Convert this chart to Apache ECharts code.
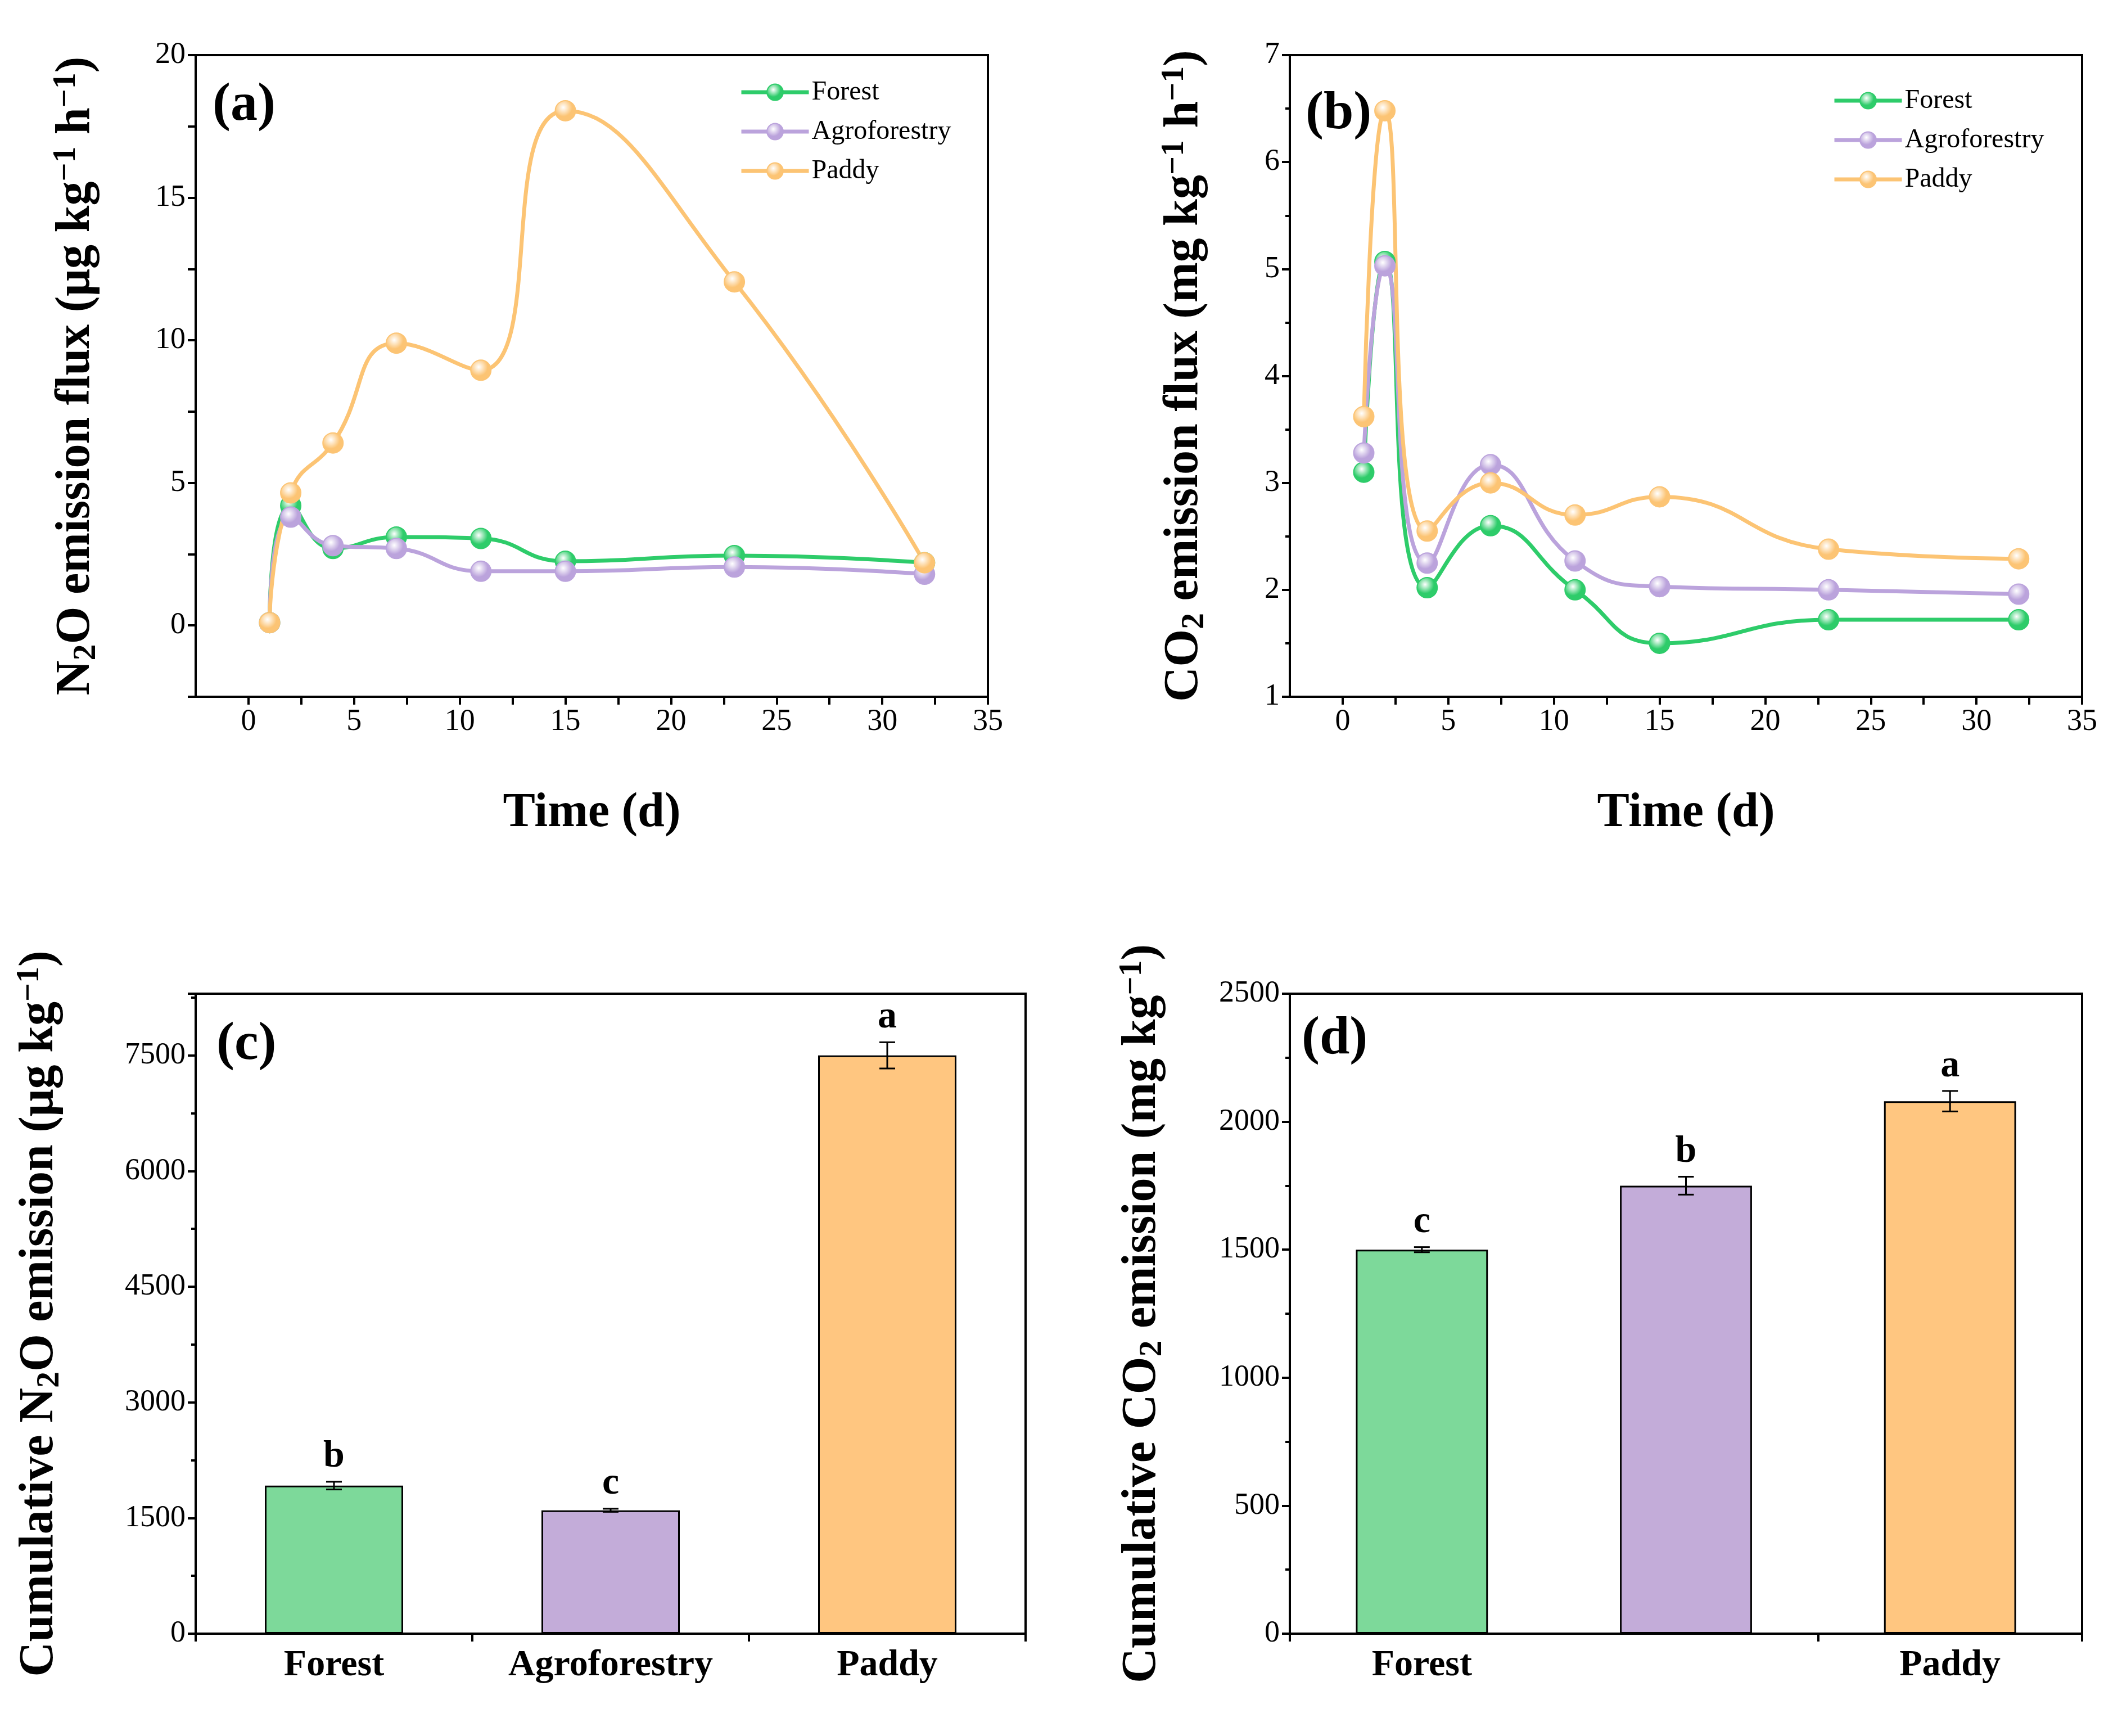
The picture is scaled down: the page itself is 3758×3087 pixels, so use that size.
<!DOCTYPE html>
<html><head><meta charset="utf-8">
<script src="https://cdn.jsdelivr.net/npm/echarts@6/dist/echarts.min.js"></script>
<style>html,body{margin:0;background:#fff}#c{width:3758px;height:3087px}</style>
</head><body><div id="c"></div>
<script>
var days = [1, 2, 4, 7, 11, 15, 23, 32];
var n2oForest = [0.1, 4.2, 2.7, 3.1, 3.05, 2.25, 2.45, 2.2];
var n2oAgro = [0.1, 3.8, 2.8, 2.7, 1.9, 1.9, 2.05, 1.8];
var n2oPaddy = [0.1, 4.65, 6.4, 9.9, 8.95, 18.05, 12.05, 2.2];
var co2Forest = [3.1, 5.07, 2.02, 2.6, 2.0, 1.5, 1.72, 1.72];
var co2Agro = [3.28, 5.03, 2.25, 3.17, 2.27, 2.03, 2.0, 1.96];
var co2Paddy = [3.62, 6.48, 2.55, 3.0, 2.7, 2.87, 2.38, 2.29];
var sites = ['Forest', 'Agroforestry', 'Paddy'];
var cumN2O = [1920, 1600, 7500];
var cumN2OErr = [50, 20, 170];
var cumN2OLetter = ['b', 'c', 'a'];
var cumCO2 = [1500, 1750, 2080];
var cumCO2Err = [10, 35, 40];
var cumCO2Letter = ['c', 'b', 'a'];

var lineCol = ['#2ecc6a', '#bba3dc', '#fcc474'];
var barCol = ['#7dd99a', '#c3acd9', '#ffc680'];
var F = 'Liberation Serif';
var chart = echarts.init(document.getElementById('c'));

var grids = [
  {left: 348, top: 98, width: 1409, height: 1141},
  {left: 2294, top: 98, width: 1409, height: 1141},
  {left: 348, top: 1767, width: 1476, height: 1138},
  {left: 2294, top: 1767, width: 1409, height: 1138}
].map(function (g) { return Object.assign({show: true, borderColor: '#000', borderWidth: 4, backgroundColor: 'transparent'}, g); });

var rich = {
  t: {fontFamily: F, fontWeight: 'bold', fontSize: 86, color: '#000'},
  sub: {fontFamily: F, fontWeight: 'bold', fontSize: 58, color: '#000', verticalAlign: 'bottom', padding: [36, 0, 0, 0]},
  sup: {fontFamily: F, fontWeight: 'bold', fontSize: 58, color: '#000', padding: [0, 0, 36, 0]}
};
function plain(v) { return String(v); }
function axisBase(extra) {
  return Object.assign({
    axisLine: {show: true, onZero: false, lineStyle: {color: '#000', width: 4}},
    axisTick: {show: true, inside: false, length: 14, lineStyle: {width: 4}},
    axisLabel: {fontFamily: F, fontSize: 54, color: '#000', margin: 18, formatter: plain},
    splitLine: {show: false},
    nameTextStyle: {rich: rich}
  }, extra);
}
function fiveOnly(v) { return v % 5 === 0 ? String(v) : ''; }
var minor = {show: true, splitNumber: 2, length: 8, lineStyle: {width: 4, color: '#000'}};
var xaxes = [0, 1].map(function (i) {
  return axisBase({type: 'value', gridIndex: i, min: -2.5, max: 35, interval: 2.5,
    axisLabel: {fontFamily: F, fontSize: 54, color: '#000', margin: 18, formatter: fiveOnly, showMinLabel: false},
    name: '{t|Time (d)}', nameLocation: 'middle', nameGap: 165});
});
[2, 3].forEach(function (i) {
  xaxes.push(axisBase({type: 'category', gridIndex: i, data: sites, axisLabel: {fontFamily: F, fontSize: 66, fontWeight: 'bold', color: '#000', margin: 24}}));
});

var yaxes = [
  axisBase({type: 'value', gridIndex: 0, min: -2.5, max: 20, interval: 2.5,
    axisLabel: {fontFamily: F, fontSize: 54, color: '#000', margin: 18, formatter: fiveOnly},
    name: '{t|N}{sub|2}{t|O emission flux (μg kg}{sup|−1}{t| h}{sup|−1}{t|)}', nameLocation: 'middle', nameGap: 165}),
  axisBase({type: 'value', gridIndex: 1, min: 1, max: 7, interval: 1, minorTick: minor,
    name: '{t|CO}{sub|2}{t| emission flux (mg kg}{sup|−1}{t| h}{sup|−1}{t|)}', nameLocation: 'middle', nameGap: 140}),
  axisBase({type: 'value', gridIndex: 2, min: 0, max: 8300, interval: 1500, minorTick: minor,
    axisLabel: {fontFamily: F, fontSize: 54, color: '#000', margin: 18, formatter: plain, showMaxLabel: false},
    name: '{t|Cumulative N}{sub|2}{t|O emission (μg kg}{sup|−1}{t|)}', nameLocation: 'middle', nameGap: 230}),
  axisBase({type: 'value', gridIndex: 3, min: 0, max: 2500, interval: 500, minorTick: minor,
    name: '{t|Cumulative CO}{sub|2}{t| emission (mg kg}{sup|−1}{t|)}', nameLocation: 'middle', nameGap: 215})
];

function marker(c) {
  return {type: 'radial', x: 0.4, y: 0.35, r: 0.7, colorStops: [{offset: 0, color: '#ffffff'}, {offset: 0.6, color: c}, {offset: 1, color: c}]};
}
function lineSeries(name, vals, idx, col) {
  return {name: name, type: 'line', xAxisIndex: idx, yAxisIndex: idx, smooth: 0.5,
    data: days.map(function (d, i) { return [d, vals[i]]; }),
    symbol: 'circle', symbolSize: 36, lineStyle: {color: col, width: 7},
    itemStyle: {color: marker(col), borderColor: col, borderWidth: 2}};
}
function errSeries(idx, vals, errs, letters) {
  return {type: 'custom', xAxisIndex: idx, yAxisIndex: idx, z: 10,
    data: vals.map(function (v, i) { return [i, v, errs[i], letters[i]]; }),
    renderItem: function (p, api) {
      var x = api.value(0), v = api.value(1), e = api.value(2);
      var hi = api.coord([x, v + e]), lo = api.coord([x, v - e]);
      var w = 14;
      return {type: 'group', children: [
        {type: 'line', shape: {x1: hi[0], y1: hi[1], x2: lo[0], y2: lo[1]}, style: {stroke: '#000', lineWidth: 3}},
        {type: 'line', shape: {x1: hi[0] - w, y1: hi[1], x2: hi[0] + w, y2: hi[1]}, style: {stroke: '#000', lineWidth: 3}},
        {type: 'line', shape: {x1: lo[0] - w, y1: lo[1], x2: lo[0] + w, y2: lo[1]}, style: {stroke: '#000', lineWidth: 3}},
        {type: 'text', x: hi[0], y: hi[1] - 10, style: {text: api.value(3), fill: '#000', font: 'bold 68px "' + F + '"', textAlign: 'center', textVerticalAlign: 'bottom'}}
      ]};
    }};
}
function barSeries(idx, vals) {
  return {type: 'bar', xAxisIndex: idx, yAxisIndex: idx, barWidth: '50%',
    data: vals.map(function (v, i) { return {value: v, itemStyle: {color: barCol[i], borderColor: '#000', borderWidth: 3}}; })};
}

var legendText = {fontFamily: F, fontSize: 48, color: '#000'};
var series = [
  lineSeries('Forest', n2oForest, 0, lineCol[0]),
  lineSeries('Agroforestry', n2oAgro, 0, lineCol[1]),
  lineSeries('Paddy', n2oPaddy, 0, lineCol[2]),
  lineSeries('Forest', co2Forest, 1, lineCol[0]),
  lineSeries('Agroforestry', co2Agro, 1, lineCol[1]),
  lineSeries('Paddy', co2Paddy, 1, lineCol[2]),
  barSeries(2, cumN2O), errSeries(2, cumN2O, cumN2OErr, cumN2OLetter),
  barSeries(3, cumCO2), errSeries(3, cumCO2, cumCO2Err, cumCO2Letter)
];

function panelLabel(t, x, y) {
  return {type: 'text', left: x, top: y, style: {text: t, font: 'bold 96px "' + F + '"', fill: '#000'}};
}
function legendAt(x, y) {
  return {left: x, top: y, orient: 'vertical', itemGap: 22, itemWidth: 120, itemHeight: 36,
    lineStyle: {width: 7}, textStyle: legendText, data: sites};
}

chart.setOption({
  backgroundColor: '#fff',
  animation: false,
  grid: grids,
  xAxis: xaxes,
  yAxis: yaxes,
  legend: [legendAt(1310, 135), legendAt(3254, 150)],
  graphic: [
    panelLabel('(a)', 378, 140),
    panelLabel('(b)', 2322, 155),
    panelLabel('(c)', 385, 1810),
    panelLabel('(d)', 2315, 1800)
  ],
  series: series
});
</script></body></html>
